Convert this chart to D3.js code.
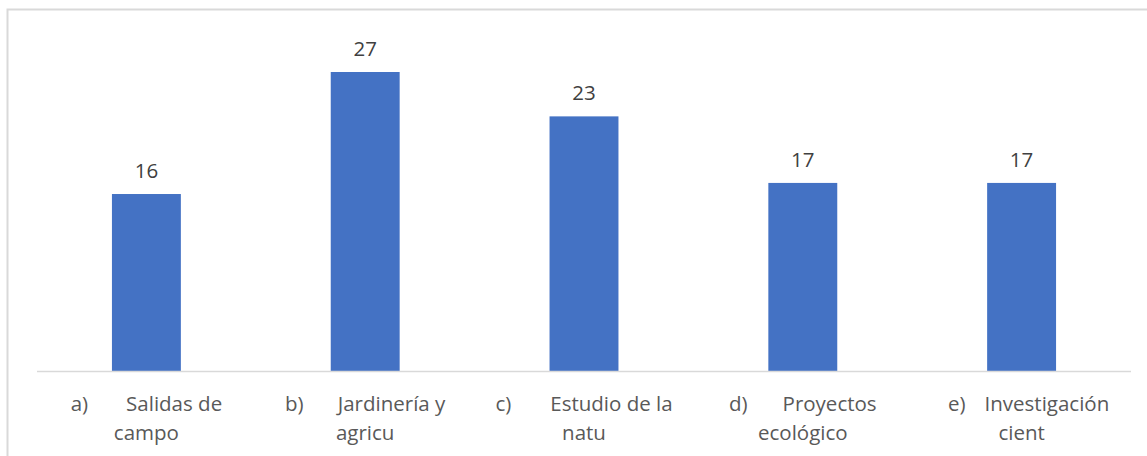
<!DOCTYPE html>
<html><head><meta charset="utf-8">
<script src="https://cdn.jsdelivr.net/npm/d3@7"></script>
<style>body{margin:0;background:#fff;} svg{display:block;}</style>
</head><body>
<svg id="c" width="1147" height="456"></svg>
<script>
const prefixes = ["a)", "b)", "c)", "d)", "e)"];
const line1 = ["Salidas de", "Jardinería y", "Estudio de la", "Proyectos", "Investigación"];
const line2 = ["campo", "agricu", "natu", "ecológico", "cient"];
const categories = ["a", "b", "c", "d", "e"];
const values = [16, 27, 23, 17, 17];

const W = 1147, H = 456;
const svg = d3.select("#c");
const FONT = "'Open Sans', sans-serif";
const FS = 20.5;

svg.append("rect").attr("x", 7.5).attr("y", 9.5).attr("width", W + 10).attr("height", H + 10)
  .attr("fill", "#fff").attr("stroke", "#d9d9d9").attr("stroke-width", 2);

const x = d3.scaleBand().domain(categories).range([37, 1131]).paddingInner(0.685).paddingOuter(0.3425);
const y = d3.scaleLinear().domain([0, 27]).range([371.5, 72]);

svg.selectAll("rect.bar").data(values).join("rect").attr("class", "bar")
  .attr("x", (d, i) => x(categories[i])).attr("width", x.bandwidth())
  .attr("y", d => y(d)).attr("height", d => y(0) - y(d)).attr("fill", "#4472c4");

svg.append("line").attr("x1", 37).attr("x2", 1131).attr("y1", 371.5).attr("y2", 371.5)
  .attr("stroke", "#d9d9d9").attr("stroke-width", 1.5);

svg.selectAll("text.val").data(values).join("text").attr("class", "val")
  .attr("x", (d, i) => x(categories[i]) + x.bandwidth() / 2).attr("y", d => y(d) - 16)
  .attr("text-anchor", "middle").attr("font-family", FONT).attr("font-size", FS)
  .attr("fill", "#404040").text(d => d);

const gaps = [38, 34, 39, 35, 19];
const shift1 = [0, 0, 0, 0, 7];
categories.forEach((c, i) => {
  const cx = x(c) + x.bandwidth() / 2;
  const t = svg.append("text").attr("y", 411).attr("font-family", FONT).attr("font-size", FS)
    .attr("fill", "#595959");
  t.append("tspan").text(prefixes[i]);
  t.append("tspan").attr("dx", gaps[i]).text(line1[i]);
  const w = t.node().getComputedTextLength() + gaps[i];
  t.attr("x", cx + shift1[i] - w / 2);
  svg.append("text").attr("x", cx).attr("y", 440).attr("text-anchor", "middle")
    .attr("font-family", FONT).attr("font-size", FS).attr("fill", "#595959").text(line2[i]);
});
</script>
</body></html>
